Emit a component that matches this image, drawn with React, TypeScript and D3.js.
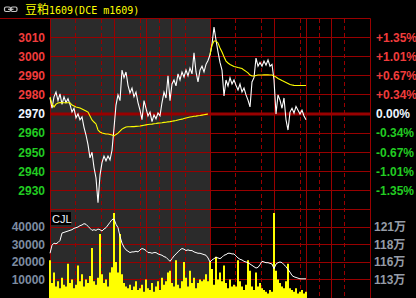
import React from 'react';
import * as d3 from 'd3';

const TITLE_NAME = '豆粕';
const TITLE_CODE = '1609(DCE m1609)';
const PREV_CLOSE = 2970;
const PRICE_TICKS = [3010, 3000, 2990, 2980, 2970, 2960, 2950, 2940, 2930];
const VOLUME_TICKS = [40000, 30000, 20000, 10000];
const OI_TICK_LABELS = ['121万', '118万', '116万', '113万'];
const SOLID_SLOTS = [0, 32.15, 48.35, 60.85, 80.35, 112.15, 128.35, 140.85, 160.25];
const DASHED_SLOTS = [12.85, 25.85, 45, 54.5, 67.5, 92.85, 105.85, 125, 134.5, 147.15];
const NIGHT_END_SLOT = 80.25;
const TOTAL_SLOTS = 160.25;

const price = [
  2978.4, 2973, 2979, 2981.5, 2977, 2980.5, 2975, 2979, 2976, 2978,
  2975, 2971, 2973, 2968, 2970, 2967, 2968.5, 2963, 2959, 2954,
  2947, 2950, 2942, 2936.5, 2923.5, 2938, 2944.5, 2948, 2945.5, 2948,
  2946, 2951, 2962.5, 2974.7, 2980, 2977, 2993, 2989, 2992, 2985,
  2981, 2983.6, 2979, 2981.5, 2976, 2972, 2967, 2977, 2973, 2969,
  2971, 2966, 2969.5, 2967.5, 2970.5, 2969, 2976, 2981.5, 2978.4, 2990,
  2977, 2985.7, 2987.8, 2984.7, 2991, 2987.8, 2992, 2989.4, 2993, 2990,
  2994, 2991, 3002, 2992, 2986.8, 2993, 2995, 2992, 2996, 2998,
  3001, 3006.6, 3015.5, 3008.7, 3002.5, 2997, 2993, 2979.4, 2987.8, 2984.7,
  2989, 2985.7, 2987.8, 2985, 2982.6, 2985.7, 2981.5, 2983.6, 2980, 2977.3,
  2973.7, 2986.8, 2989, 2999.3, 2995, 2997, 2995, 2997.7, 2995.6, 2998.3,
  2995, 2996, 2987.8, 2970, 2980, 2977.3, 2973, 2978.4, 2967, 2961.6,
  2971, 2973, 2970.5, 2974, 2972, 2970, 2972, 2969, 2967,
];

const avgNight = [
  2978.9, 2975.2, 2973.7, 2975.2, 2975.8, 2976.0, 2975.9, 2975.9, 2975.9, 2975.9,
  2975.9, 2974.7, 2974.2, 2973.7, 2973.4, 2973.1, 2972.6, 2972.1, 2971.6, 2971.0,
  2969.0, 2966.9, 2965.8, 2964.8, 2961.6, 2960.6, 2960.0, 2959.8, 2959.5, 2959.5,
  2959.3, 2959.0, 2958.5, 2959.3, 2960.0, 2961.0, 2962.1, 2962.7, 2963.2, 2963.3,
  2963.3, 2963.4, 2963.4, 2963.5, 2963.6, 2963.7, 2963.9, 2964.1, 2964.3, 2964.5,
  2964.6, 2964.7, 2964.9, 2965.0, 2965.2, 2965.3, 2965.4, 2965.6, 2965.7, 2965.9,
  2966.0, 2966.2, 2966.4, 2966.6, 2966.9, 2967.1, 2967.3, 2967.6, 2967.9, 2968.2,
  2968.4, 2968.6, 2968.8, 2968.9, 2969.1, 2969.2, 2969.4, 2969.6, 2969.8, 2970.0,
];

const avgDay = [
  3001.0, 3006.0, 3008.2, 3008.2, 3007.2, 3004.6, 3002.5, 3000.0, 2997.7, 2996.7,
  2995.9, 2995.4, 2994.9, 2994.6, 2994.3, 2994.1, 2993.8, 2993.0, 2992.3, 2991.5,
  2990.4, 2989.9, 2989.9, 2990.2, 2990.4, 2990.4, 2990.4, 2990.5, 2990.5, 2990.5,
  2990.4, 2990.4, 2989.9, 2989.4, 2988.6, 2988.1, 2987.5, 2987.0, 2986.5, 2986.0,
  2985.4, 2985.2, 2985.0, 2984.9, 2984.9, 2984.9, 2984.9, 2984.9, 2984.9,
];

const volume = [
  21000, 8000, 14000, 6000, 9000, 5000, 11000, 7000, 6000, 19000,
  8000, 10000, 5000, 7000, 18000, 9000, 13000, 6000, 10000, 8000,
  12000, 28000, 9000, 7000, 11000, 36000, 13000, 8000, 10000, 6000,
  14000, 17000, 48000, 20000, 14000, 36000, 13000, 8000, 6000, 5000,
  7000, 4000, 6000, 9000, 4000, 5000, 7000, 3000, 10000, 5000,
  4000, 8000, 3000, 6000, 9000, 4000, 11000, 7000, 9000, 14000,
  15000, 8000, 6000, 21000, 7000, 5000, 9000, 20000, 11000, 6000,
  15000, 8000, 11000, 5000, 8000, 10000, 9000, 10000, 13000, 9000,
  20000, 16000, 7000, 23000, 10000, 14000, 9000, 18000, 8000, 5000,
  10000, 6000, 7000, 6000, 21000, 9000, 6000, 4000, 7000, 21000,
  15000, 6000, 4000, 14000, 6000, 8000, 5000, 4000, 3000, 2000,
  4000, 3000, 48000, 15000, 10000, 8000, 6000, 5000, 9000, 19000,
  5000, 4000, 3000, 5000, 2000, 3000, 4000, 2000, 3000,
];

const openInterest = [
  117.3, 118.5, 118.8, 118.7, 118.9, 119.2, 120.3, 120.4, 120.5, 120.6,
  120.7, 120.8, 121.0, 121.1, 121.2, 121.4, 121.5, 121.7, 121.6, 121.3,
  121.0, 120.7, 120.8, 120.7, 120.9, 120.8, 120.6, 120.9, 121.1, 121.5,
  121.9, 122.3, 122.4, 121.6, 121.1, 119.8, 118.8, 118.2, 117.8, 117.6,
  117.4, 117.5, 117.5, 117.6, 117.5, 117.8, 118.0, 117.9, 117.7, 117.4,
  117.4, 117.3, 117.4, 117.4, 117.2, 117.1, 117.0, 116.8, 116.7, 116.4,
  116.1, 116.5, 116.9, 117.2, 117.5, 117.8, 118.0, 117.9, 117.7, 117.8,
  117.7, 117.7, 117.5, 117.4, 117.3, 117.3, 117.2, 117.1, 117.0, 116.6,
  116.0, 116.3, 116.5, 116.7, 116.6, 116.5, 116.7, 117.0, 117.1, 117.3,
  117.3, 117.2, 117.2, 116.9, 116.6, 116.4, 116.3, 116.1, 116.0, 115.9,
  115.7, 115.5, 115.3, 115.1, 115.2, 115.6, 116.1, 116.0, 115.9, 115.9,
  115.8, 115.7, 115.0, 115.7, 115.9, 116.0, 115.9, 115.6, 115.3, 114.9,
  114.5, 114.0, 113.8, 113.7, 113.6, 113.5, 113.5, 113.5, 113.5,
];

const FONT = "'Liberation Sans', Arial, 'Noto Sans CJK SC', sans-serif";
const GRID = '#990000';
const RED = '#f03c3c';
const GREEN = '#22cc22';

export default function App() {
  const W = 416;
  const H = 298;
  const x = d3.scaleLinear().domain([0, TOTAL_SLOTS]).range([50, 370.5]);
  const y = d3.scaleLinear().domain([2920, 3020]).range([209.5, 18.5]);
  const yv = d3.scaleLinear().domain([0, 50000]).range([297, 209.5]);
  const yo = d3.scaleLinear().domain([110.8, 123.8]).range([297, 209.5]);

  const priceLine = d3.line<number>().x((_, i) => x(i)).y((d) => y(d))(price) || '';
  const nightLine = d3.line<number>().x((_, i) => x(i)).y((d) => y(d))(avgNight) || '';
  const dayLine = d3.line<number>().x((_, i) => x(i + avgNight.length)).y((d) => y(d))(avgDay) || '';
  const oiLine = d3.line<number>().x((_, i) => x(i)).y((d) => yo(d))(openInterest) || '';

  const px = (v: number) => Math.floor(x(v)) + 0.5;
  const py = (v: number) => Math.floor(y(v)) + 0.5;
  const pv = (v: number) => Math.floor(yv(v)) + 0.5;
  const xl = x(0);
  const xr = x(TOTAL_SLOTS);

  const pct = (t: number) => {
    const p = ((t - PREV_CLOSE) / PREV_CLOSE) * 100;
    if (Math.abs(p) < 1e-9) return '0.00%';
    return (p > 0 ? '+' : '-') + Math.abs(p).toFixed(2) + '%';
  };
  const color = (t: number) => (t > PREV_CLOSE ? RED : t < PREV_CLOSE ? GREEN : '#eef6ff');

  return (
    <div style={{ position: 'fixed', left: 0, top: 0 }}>
      <svg width={W} height={H} style={{ display: 'block', background: '#000' }}>
        <rect x={0} y={0} width={W} height={H} fill="#000" />
        {/* night session shading */}
        <rect x={xl} y={19} width={x(NIGHT_END_SLOT) - xl} height={H - 19} fill="#2b2b2b" />

        {/* horizontal grid */}
        {PRICE_TICKS.filter((t) => t !== PREV_CLOSE).map((t) => (
          <line key={'h' + t} x1={xl} x2={xr} y1={py(t)} y2={py(t)} stroke={GRID} strokeWidth={1} />
        ))}
        <line x1={xl} x2={xr} y1={py(2920)} y2={py(2920)} stroke={GRID} strokeWidth={1} />
        {VOLUME_TICKS.map((t) => (
          <line key={'v' + t} x1={xl} x2={xr} y1={pv(t)} y2={pv(t)} stroke={GRID} strokeWidth={1} />
        ))}
        {/* vertical grid */}
        {DASHED_SLOTS.map((s) => (
          <line key={'d' + s} x1={px(s)} x2={px(s)} y1={19} y2={H} stroke={GRID} strokeWidth={1} strokeDasharray="4,3" />
        ))}
        {SOLID_SLOTS.map((s) => (
          <line key={'s' + s} x1={px(s)} x2={px(s)} y1={18.5} y2={H} stroke={GRID} strokeWidth={1} />
        ))}
        {/* top border */}
        <line x1={0} x2={xr} y1={py(3020)} y2={py(3020)} stroke={GRID} strokeWidth={1} />
        {/* prev close line */}
        <line x1={xl} x2={xr} y1={y(PREV_CLOSE)} y2={y(PREV_CLOSE)} stroke={GRID} strokeWidth={3} />

        {/* volume bars */}
        {volume.map((v, i) => (
          <rect key={'b' + i} x={x(i) - 1} y={yv(v)} width={2} height={yv(0) - yv(v) + 1} fill="#ffff00" />
        ))}
        {/* open interest */}
        <path d={oiLine} fill="none" stroke="#ffffff" strokeWidth={1} />

        {/* price & average */}
        <path d={priceLine} fill="none" stroke="#ffffff" strokeWidth={1.1} />
        <path d={nightLine} fill="none" stroke="#ffff00" strokeWidth={1.1} />
        <path d={dayLine} fill="none" stroke="#ffff00" strokeWidth={1.1} />

        {/* price axis labels */}
        {PRICE_TICKS.map((t) => (
          <g key={'l' + t}>
            <text x={45} y={y(t)} dy="0.36em" textAnchor="end" fontFamily={FONT} fontWeight="bold" fontSize={12} fill={color(t)}>
              {t}
            </text>
            <text x={376} y={y(t)} dy="0.36em" textAnchor="start" fontFamily={FONT} fontWeight="bold" fontSize={12} fill={color(t)}>
              {pct(t)}
            </text>
          </g>
        ))}
        {VOLUME_TICKS.map((t, i) => (
          <g key={'vl' + t}>
            <text x={45} y={yv(t)} dy="0.36em" textAnchor="end" fontFamily={FONT} fontWeight="bold" fontSize={12} fill="#7d8ca0">
              {t}
            </text>
            <text x={374} y={yv(t)} dy="0.36em" textAnchor="start" fontFamily={FONT} fontWeight="bold" fontSize={12} fill="#959ca6">
              {OI_TICK_LABELS[i]}
            </text>
          </g>
        ))}

        {/* CJL tag */}
        <rect x={51} y={212} width={20} height={13} fill="#000" />
        <text x={52} y={223} fontFamily={FONT} fontSize={11} fill="#eef6ff">CJL</text>

        {/* title */}
        <g fill="none" stroke="#c8c8c8" strokeWidth={1.2}>
          <rect x={4.5} y={7} width={6} height={4.5} rx={1.5} />
          <rect x={11} y={7} width={6} height={4.5} rx={1.5} />
        </g>
        <line x1={8} x2={13.5} y1={9.3} y2={9.3} stroke="#c8c8c8" strokeWidth={1.2} />
        <text x={25} y={13.5} fill="#ffff00">
          <tspan fontFamily="'Noto Sans CJK SC', sans-serif" fontSize={12}>{TITLE_NAME}</tspan>
          <tspan fontFamily="'DejaVu Sans Mono', monospace" fontSize={10}>{TITLE_CODE}</tspan>
        </text>
      </svg>
    </div>
  );
}
